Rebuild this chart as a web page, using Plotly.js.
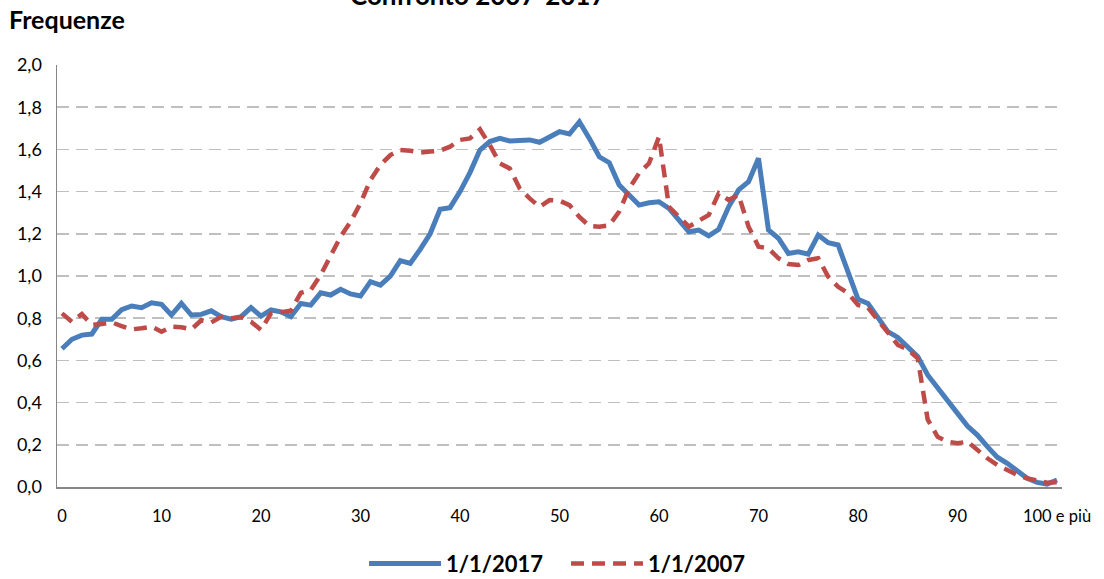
<!DOCTYPE html>
<html>
<head>
<meta charset="utf-8">
<script src="https://cdn.plot.ly/plotly-3.0.1.min.js"></script>
<style>
html,body{margin:0;padding:0;background:#fff;}
#chart{width:1104px;height:579px;}
</style>
</head>
<body>
<div id="chart"></div>
<script>
var ages = [0,1,2,3,4,5,6,7,8,9,10,11,12,13,14,15,16,17,18,19,20,21,22,23,24,25,26,27,28,29,30,31,32,33,34,35,36,37,38,39,40,41,42,43,44,45,46,47,48,49,50,51,52,53,54,55,56,57,58,59,60,61,62,63,64,65,66,67,68,69,70,71,72,73,74,75,76,77,78,79,80,81,82,83,84,85,86,87,88,89,90,91,92,93,94,95,96,97,98,99,100];

var freq2017 = [0.655,0.70,0.72,0.725,0.795,0.795,0.84,0.858,0.85,0.873,
0.866,0.815,0.87,0.815,0.818,0.835,0.807,0.795,0.807,0.85,
0.81,0.839,0.83,0.807,0.87,0.862,0.92,0.91,0.937,0.915,
0.905,0.973,0.957,1.0,1.073,1.06,1.126,1.2,1.316,1.324,
1.40,1.49,1.597,1.637,1.652,1.64,1.642,1.645,1.634,1.657,
1.684,1.673,1.731,1.652,1.565,1.537,1.431,1.384,1.336,1.347,
1.352,1.32,1.265,1.21,1.218,1.19,1.221,1.328,1.408,1.447,
1.558,1.218,1.179,1.107,1.115,1.104,1.194,1.158,1.147,1.013,
0.89,0.87,0.80,0.736,0.709,0.665,0.618,0.531,0.468,0.404,
0.349,0.289,0.246,0.191,0.141,0.112,0.073,0.041,0.022,0.014,
0.033];

var freq2007 = [0.823,0.783,0.82,0.768,0.773,0.78,0.763,0.747,0.752,0.76,
0.736,0.76,0.757,0.747,0.79,0.78,0.807,0.80,0.805,0.783,
0.745,0.823,0.828,0.835,0.92,0.934,1.005,1.10,1.186,1.257,
1.345,1.455,1.526,1.573,1.597,1.594,1.585,1.59,1.594,1.613,
1.645,1.652,1.695,1.62,1.534,1.51,1.415,1.368,1.328,1.36,
1.357,1.336,1.28,1.237,1.234,1.24,1.305,1.415,1.487,1.534,
1.66,1.328,1.28,1.234,1.262,1.289,1.392,1.36,1.384,1.234,
1.139,1.131,1.084,1.057,1.052,1.076,1.084,0.997,0.949,0.918,
0.863,0.851,0.791,0.728,0.673,0.652,0.61,0.32,0.238,0.215,
0.207,0.215,0.175,0.136,0.104,0.081,0.057,0.041,0.028,0.02,
0.023];

var xTickVals = [0,10,20,30,40,50,60,70,80,90,100];
var xTickText = ["0","10","20","30","40","50","60","70","80","90","100 e più"];
var yTickVals = [0,0.2,0.4,0.6,0.8,1.0,1.2,1.4,1.6,1.8,2.0];

var seriesNames = ["1/1/2017","1/1/2007"];
var chartTitle = "Confronto 2007-2017";
var yTitle = "Frequenze";

var FONT = "Lato, 'Open Sans', sans-serif";

var traces = [
  {x: ages, y: freq2017, type: "scatter", mode: "lines", name: seriesNames[0],
   line: {color: "#4A7EBB", width: 5}},
  {x: ages, y: freq2007, type: "scatter", mode: "lines", name: seriesNames[1],
   line: {color: "#BE4B48", width: 4.5, dash: "13px,8px"}}
];

var layout = {
  width: 1104, height: 579,
  margin: {l: 57, r: 42, t: 65, b: 92, autoexpand: false},
  paper_bgcolor: "#ffffff", plot_bgcolor: "#ffffff",
  separators: ",.",
  font: {family: FONT, size: 16, color: "#000"},
  showlegend: true,
  legend: {orientation: "h", x: 0.5065, xanchor: "center", y: -0.182, yanchor: "middle",
           font: {family: FONT, size: 22, color: "#000", weight: "bold"},
           entrywidth: 115, entrywidthmode: "pixels", itemwidth: 72},
  xaxis: {range: [-0.5, 100.5], tickmode: "array", tickvals: xTickVals, ticktext: xTickText,
          showgrid: false, zeroline: false, showline: true, linecolor: "#868686", linewidth: 1.5,
          ticks: "", ticklabelstandoff: 14, tickfont: {family: FONT, size: 16.5, color: "#000"},
          fixedrange: true},
  yaxis: {range: [0, 2], tickmode: "array", tickvals: yTickVals, tickformat: ".1f",
          showgrid: true, gridcolor: "#BFBFBF", gridwidth: 1.5, griddash: "12px,7px",
          zeroline: false, showline: true, linecolor: "#868686", linewidth: 1.5,
          ticks: "", ticklabelstandoff: 10, tickfont: {family: FONT, size: 18, color: "#000"},
          fixedrange: true},
  annotations: [
    {text: "<b>" + yTitle + "</b>", xref: "paper", yref: "paper", x: -0.05, y: 1.108,
     xanchor: "left", yanchor: "middle", showarrow: false,
     font: {family: FONT, size: 25, color: "#000"}},
    {text: "<b>" + chartTitle + "</b>", xref: "paper", yref: "paper", x: (478 - 57) / 1005, y: (487 - 13) / 422,
     xanchor: "center", yanchor: "bottom", showarrow: false,
     font: {family: FONT, size: 26, color: "#000"}}
  ]
};

Plotly.newPlot("chart", traces, layout, {displayModeBar: false, staticPlot: true});
</script>
</body>
</html>
